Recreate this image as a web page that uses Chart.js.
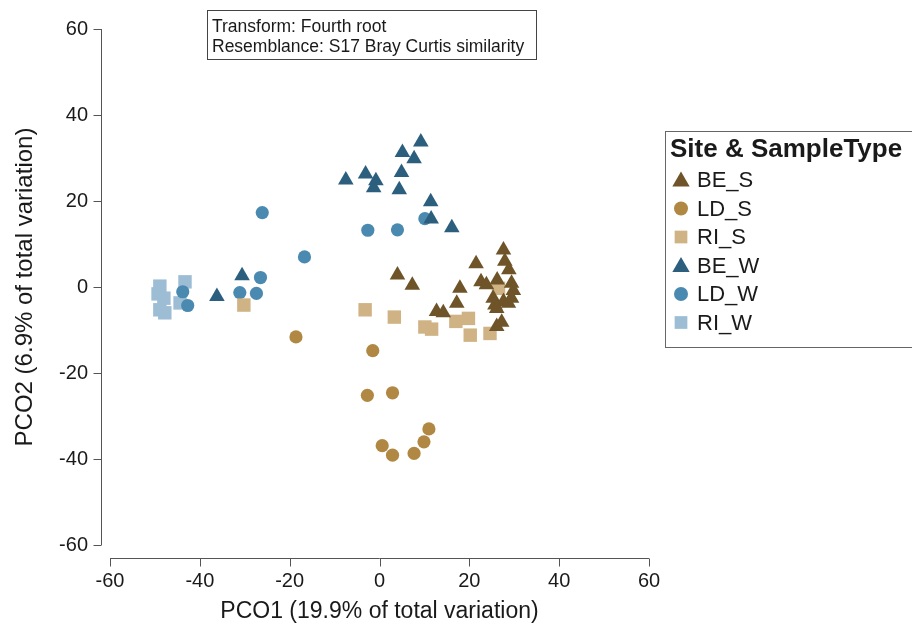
<!DOCTYPE html>
<html>
<head>
<meta charset="utf-8">
<title>PCO plot</title>
<script src="https://cdn.jsdelivr.net/npm/chart.js@4.4.1/dist/chart.umd.min.js"></script>
<style>
  html, body { margin: 0; padding: 0; background: #ffffff; }
  #wrap { width: 912px; height: 633px; }
</style>
</head>
<body>
<div id="wrap"><canvas id="pcoChart" width="912" height="633"></canvas></div>
<script>
// groups (site & sample type)
const groupLabels = ["BE_S", "LD_S", "RI_S", "BE_W", "LD_W", "RI_W"];
const groupColors = ["#6e5428", "#b08843", "#d0b384", "#2c5f7e", "#4b8ab0", "#9dbdd5"];
const groupShapes = ["triangle", "circle", "rect", "triangle", "circle", "rect"];

// PCO scores [PCO1, PCO2]
const beS = [
  [4.0, 2.8], [7.3, 0.4], [12.7, -5.7], [14.2, -6.0], [17.2, -3.8], [17.9, -0.3],
  [21.5, 5.4], [22.6, 1.2], [23.8, 0.5], [25.3, -2.6], [25.7, -4.2], [26.2, 1.6],
  [26.1, -9.2], [27.2, -8.2], [27.6, 8.6], [27.9, 6.0], [28.8, 4.0], [29.4, 0.9],
  [29.8, -0.8], [29.4, -2.6], [27.6, -3.4], [28.7, -3.8], [26.1, -5.0]
];
const ldS = [
  [-18.6, -11.6], [-1.5, -14.8], [-2.7, -25.2], [2.9, -24.6], [11.0, -33.0],
  [9.9, -36.0], [7.7, -38.7], [0.6, -36.9], [2.9, -39.1]
];
const riS = [
  [-30.2, -4.2], [-3.2, -5.3], [3.3, -7.0], [10.1, -9.3], [11.6, -9.8],
  [17.0, -8.0], [19.8, -7.3], [20.2, -11.2], [24.6, -10.8], [26.5, -0.3]
];
const beW = [
  [-7.5, 24.9], [-3.1, 26.3], [-0.8, 24.7], [-1.3, 23.1], [4.9, 26.6], [4.4, 22.6],
  [5.1, 31.3], [7.7, 29.8], [9.2, 33.7], [11.4, 19.8], [11.5, 15.8], [16.1, 13.8],
  [-36.2, -2.2], [-30.6, 2.6]
];
const ldW = [
  [-26.1, 17.3], [-16.7, 7.0], [-2.6, 13.2], [4.0, 13.3], [10.1, 15.9],
  [-26.5, 2.2], [-31.1, -1.3], [-27.4, -1.5], [-43.8, -1.1], [-42.7, -4.3]
];
const riW = [
  [-48.9, 0.2], [-49.3, -1.6], [-48.0, -2.6], [-48.9, -5.3], [-47.8, -6.0],
  [-43.3, 1.2], [-44.4, -3.7]
];
const groupData = [beS, ldS, riS, beW, ldW, riW];

// axis
const axisTicks = [-60, -40, -20, 0, 20, 40, 60];
const xTitle = "PCO1 (19.9% of total variation)";
const yTitle = "PCO2 (6.9% of total variation)";
const noteLines = ["Transform: Fourth root", "Resemblance: S17 Bray Curtis similarity"];
const legendTitle = "Site & SampleType";

const FONT = "'Liberation Sans', Arial, Helvetica, sans-serif";
const AXIS_COL = "#555555";
const TEXT_COL = "#1a1a1a";

function pointRadius(shape) {
  if (shape === "triangle") return 9;
  if (shape === "rect") return 9.5;
  return 6.6;
}

const datasets = groupLabels.map((label, i) => ({
  label: label,
  data: groupData[i].map((p) => ({ x: p[0], y: p[1] })),
  pointStyle: groupShapes[i],
  pointRadius: pointRadius(groupShapes[i]),
  pointHoverRadius: pointRadius(groupShapes[i]),
  backgroundColor: groupColors[i],
  borderColor: groupColors[i],
  borderWidth: 0,
}));

// draw a marker the same way the points look
function drawMarker(ctx, shape, x, y, r, color) {
  ctx.save();
  ctx.fillStyle = color;
  ctx.beginPath();
  if (shape === "triangle") {
    let a = 0;
    ctx.moveTo(x + Math.sin(a) * r, y - Math.cos(a) * r);
    a += (2 * Math.PI) / 3;
    ctx.lineTo(x + Math.sin(a) * r, y - Math.cos(a) * r);
    a += (2 * Math.PI) / 3;
    ctx.lineTo(x + Math.sin(a) * r, y - Math.cos(a) * r);
    ctx.closePath();
  } else if (shape === "rect") {
    const s = r * Math.SQRT1_2;
    ctx.rect(x - s, y - s, 2 * s, 2 * s);
  } else {
    ctx.arc(x, y, r, 0, Math.PI * 2);
  }
  ctx.fill();
  ctx.restore();
}

// detached axis lines, note box and legend box (PRIMER style)
const primerFrame = {
  id: "primerFrame",
  afterDraw(chart) {
    const ctx = chart.ctx;
    const xs = chart.scales.x;
    const ys = chart.scales.y;
    const area = chart.chartArea;

    ctx.save();
    ctx.strokeStyle = AXIS_COL;
    ctx.lineWidth = 1;

    // y axis
    const yLineX = Math.round(area.left - 9) + 0.5;
    ctx.beginPath();
    ctx.moveTo(yLineX, ys.getPixelForValue(60));
    ctx.lineTo(yLineX, ys.getPixelForValue(-60));
    axisTicks.forEach((v) => {
      const py = Math.round(ys.getPixelForValue(v)) + 0.5;
      ctx.moveTo(yLineX, py);
      ctx.lineTo(yLineX - 8, py);
    });
    ctx.stroke();

    // x axis
    const xLineY = Math.round(area.bottom + 13) + 0.5;
    ctx.beginPath();
    ctx.moveTo(xs.getPixelForValue(-60), xLineY);
    ctx.lineTo(xs.getPixelForValue(60), xLineY);
    axisTicks.forEach((v) => {
      const px = Math.round(xs.getPixelForValue(v)) + 0.5;
      ctx.moveTo(px, xLineY);
      ctx.lineTo(px, xLineY + 8);
    });
    ctx.stroke();

    // note box
    ctx.strokeStyle = "#444444";
    ctx.fillStyle = "#ffffff";
    ctx.fillRect(207, 10, 330, 50);
    ctx.strokeRect(207.5, 10.5, 329, 49);
    ctx.fillStyle = TEXT_COL;
    ctx.font = "17.5px " + FONT;
    ctx.textBaseline = "middle";
    ctx.textAlign = "left";
    ctx.fillText(noteLines[0], 212, 27);
    ctx.fillText(noteLines[1], 212, 47);

    // legend box
    ctx.strokeStyle = "#666666";
    ctx.strokeRect(665.5, 131.5, 260, 216);
    ctx.font = "bold 26px " + FONT;
    ctx.fillText(legendTitle, 670, 150);
    ctx.font = "22px " + FONT;
    groupLabels.forEach((label, i) => {
      const cy = 180 + i * 28.5;
      const shape = groupShapes[i];
      const r = shape === "triangle" ? 10 : shape === "rect" ? 9 : 7;
      drawMarker(ctx, shape, 681, shape === "triangle" ? cy + 1.5 : cy, r, groupColors[i]);
      ctx.fillStyle = TEXT_COL;
      ctx.fillText(label, 697, cy + 1);
    });
    ctx.restore();
  },
};

const ctx = document.getElementById("pcoChart").getContext("2d");

new Chart(ctx, {
  type: "scatter",
  data: { datasets: datasets },
  options: {
    responsive: false,
    animation: false,
    layout: { padding: { top: 29, right: 263, bottom: 0, left: 0 } },
    plugins: {
      legend: { display: false },
      tooltip: { enabled: false },
    },
    scales: {
      x: {
        type: "linear",
        min: -60,
        max: 60,
        afterBuildTicks(scale) {
          scale.ticks = axisTicks.map((v) => ({ value: v }));
        },
        afterFit(scale) {
          scale.height = 88;
          scale.paddingLeft = 0;
          scale.paddingRight = 0;
        },
        grid: { display: false, drawTicks: false },
        border: { display: false },
        ticks: {
          padding: 24,
          color: TEXT_COL,
          font: { family: FONT, size: 20 },
          maxRotation: 0,
        },
        title: {
          display: true,
          text: xTitle,
          color: TEXT_COL,
          font: { family: FONT, size: 23 },
          padding: { top: 0, bottom: 8 },
        },
      },
      y: {
        type: "linear",
        min: -60,
        max: 60,
        afterBuildTicks(scale) {
          scale.ticks = axisTicks.map((v) => ({ value: v }));
        },
        afterFit(scale) {
          scale.width = 110;
          scale.paddingTop = 0;
          scale.paddingBottom = 0;
        },
        grid: { display: false, drawTicks: false },
        border: { display: false },
        ticks: {
          padding: 22,
          color: TEXT_COL,
          font: { family: FONT, size: 20 },
        },
        title: {
          display: true,
          text: yTitle,
          color: TEXT_COL,
          font: { family: FONT, size: 24 },
          padding: { top: 11, bottom: 0 },
        },
      },
    },
  },
  plugins: [primerFrame],
});
</script>
</body>
</html>
